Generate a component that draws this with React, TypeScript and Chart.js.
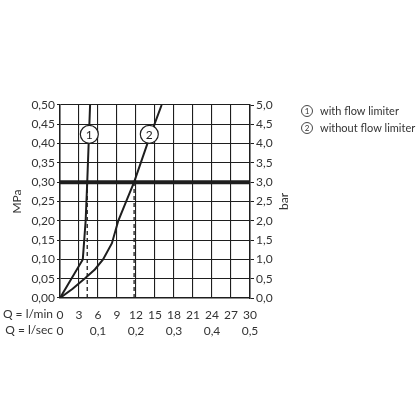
import React, { useEffect, useRef } from "react";
import { Chart, registerables } from "chart.js";

Chart.register(...registerables);

// ---- data ----
const flowWithLimiter = [0, 3.6, 4.05, 4.3, 4.75];
const pressureWithLimiter = [0, 0.1, 0.2, 0.3, 0.5];

const flowWithoutLimiter = [0, 2, 4, 5.5, 6.8, 8.2, 9.2, 10.5, 11.7, 14.1, 16.05];
const pressureWithoutLimiter = [0, 0.024, 0.052, 0.074, 0.1, 0.142, 0.2, 0.252, 0.3, 0.414, 0.5];

const referencePressure = 0.3; // MPa thick line
const dashedFlows = [4.3, 11.7]; // l/min at 0.3 MPa

const curveLabelFlows = [4.63, 14.1];
const curveLabelPressure = 0.424;
const curveLabels = ["1", "2"];

const legendLabels = ["with flow limiter", "without flow limiter"];

const xMinLabel = "Q = l/min";
const xSecLabel = "Q = l/sec";
const yLeftTitle = "MPa";
const yRightTitle = "bar";

const FONT = "Lato, 'DejaVu Sans', sans-serif";
const TEXT = "#333";
const INK = "#1e1e1e";

const comma = (v: number, d: number) => v.toFixed(d).replace(".", ",");

export default function App() {
  const ref = useRef<HTMLCanvasElement | null>(null);

  useEffect(() => {
    const canvas = ref.current;
    if (!canvas) return;

    const toPts = (xs: number[], ys: number[]) => xs.map((x, i) => ({ x, y: ys[i] }));

    const overlay = {
      id: "overlay",
      afterDatasetsDraw(chart: any) {
        const ctx = chart.ctx as CanvasRenderingContext2D;
        const xs = chart.scales.x;
        const ys = chart.scales.y;
        ctx.save();
        curveLabelFlows.forEach((f, i) => {
          const cx = xs.getPixelForValue(f);
          const cy = ys.getPixelForValue(curveLabelPressure);
          ctx.beginPath();
          ctx.arc(cx, cy, 9, 0, Math.PI * 2);
          ctx.fillStyle = "#fff";
          ctx.fill();
          ctx.lineWidth = 1.2;
          ctx.strokeStyle = INK;
          ctx.stroke();
          ctx.fillStyle = INK;
          ctx.font = `12px ${FONT}`;
          ctx.textAlign = "center";
          ctx.textBaseline = "middle";
          ctx.fillText(curveLabels[i], cx, cy + 0.5);
        });
        ctx.restore();
      },
      afterDraw(chart: any) {
        const ctx = chart.ctx as CanvasRenderingContext2D;
        const ca = chart.chartArea;
        ctx.save();
        ctx.fillStyle = TEXT;
        ctx.font = `12px ${FONT}`;
        ctx.textAlign = "right";
        ctx.textBaseline = "middle";
        ctx.fillText(xMinLabel, 53, 314);
        ctx.fillText(xSecLabel, 53, 330);
        const midY = (ca.top + ca.bottom) / 2;
        ctx.textAlign = "center";
        ctx.save();
        ctx.translate(17, midY);
        ctx.rotate(-Math.PI / 2);
        ctx.fillText(yLeftTitle, 0, 0);
        ctx.restore();
        ctx.save();
        ctx.translate(284, midY);
        ctx.rotate(-Math.PI / 2);
        ctx.fillText(yRightTitle, 0, 0);
        ctx.restore();
        legendLabels.forEach((t, i) => {
          const y = 111 + i * 17;
          ctx.beginPath();
          ctx.arc(307, y, 5.5, 0, Math.PI * 2);
          ctx.lineWidth = 0.9;
          ctx.strokeStyle = TEXT;
          ctx.stroke();
          ctx.font = `8px ${FONT}`;
          ctx.textAlign = "center";
          ctx.fillText(String(i + 1), 307, y + 0.5);
          ctx.font = `11px ${FONT}`;
          ctx.textAlign = "left";
          ctx.fillText(t, 320, y);
        });
        ctx.restore();
      },
    };

    const chart = new Chart(canvas, {
      type: "line",
      data: {
        datasets: [
          {
            data: toPts(flowWithoutLimiter, pressureWithoutLimiter),
            borderColor: INK,
            borderWidth: 2,
            pointRadius: 0,
            tension: 0,
          },
          {
            data: toPts(flowWithLimiter, pressureWithLimiter),
            borderColor: INK,
            borderWidth: 2,
            pointRadius: 0,
            tension: 0,
          },
          {
            data: [
              { x: 0, y: referencePressure },
              { x: 30, y: referencePressure },
            ],
            borderColor: INK,
            borderWidth: 4,
            pointRadius: 0,
          },
          ...dashedFlows.map((f) => ({
            data: [
              { x: f, y: 0 },
              { x: f, y: referencePressure },
            ],
            borderColor: INK,
            borderWidth: 1.3,
            borderDash: [4, 3],
            pointRadius: 0,
          })),
        ],
      },
      options: {
        responsive: false,
        animation: false,
        layout: { padding: { left: 0, right: 0, top: 105, bottom: 73 } },
        plugins: { legend: { display: false }, tooltip: { enabled: false } },
        scales: {
          x: {
            type: "linear",
            position: "bottom",
            min: 0,
            max: 30,
            afterFit: (s: any) => {
              s.height = 25;
            },
            ticks: {
              stepSize: 3,
              padding: 10,
              color: TEXT,
              font: { family: FONT, size: 12 },
              maxRotation: 0,
              autoSkip: false,
            },
            grid: { color: INK, lineWidth: 1.1, drawTicks: false },
            border: { color: INK, width: 1.5 },
          },
          x2: {
            type: "linear",
            position: "bottom",
            min: 0,
            max: 0.5,
            afterFit: (s: any) => {
              s.height = 20;
            },
            ticks: {
              stepSize: 0.1,
              padding: 1,
              color: TEXT,
              font: { family: FONT, size: 12 },
              maxRotation: 0,
              autoSkip: false,
              callback: (v: any) => (Number(v) === 0 ? "0" : comma(Number(v), 1)),
            },
            grid: { display: false, drawTicks: false },
            border: { display: false },
          },
          y: {
            type: "linear",
            position: "left",
            min: 0,
            max: 0.5,
            afterFit: (s: any) => {
              s.width = 60;
            },
            ticks: {
              stepSize: 0.05,
              padding: 2,
              color: TEXT,
              font: { family: FONT, size: 12 },
              callback: (v: any) => comma(Number(v), 2),
            },
            grid: { color: INK, lineWidth: 1.1, drawTicks: true, tickLength: 3, tickColor: INK },
            border: { color: INK, width: 1.5 },
          },
          y2: {
            type: "linear",
            position: "right",
            min: 0,
            max: 5,
            afterFit: (s: any) => {
              s.width = 166;
            },
            ticks: {
              stepSize: 0.5,
              padding: 2,
              color: TEXT,
              font: { family: FONT, size: 12 },
              callback: (v: any) => comma(Number(v), 1),
            },
            grid: { drawOnChartArea: false, drawTicks: true, tickLength: 4, color: INK },
            border: { color: INK, width: 1.5 },
          },
        },
      },
      plugins: [overlay],
    } as any);

    return () => chart.destroy();
  }, []);

  return (
    <div style={{ position: "absolute", left: 0, top: 0, width: 416, height: 416, background: "#fff" }}>
      <canvas ref={ref} width={416} height={416} style={{ display: "block" }} />
    </div>
  );
}
